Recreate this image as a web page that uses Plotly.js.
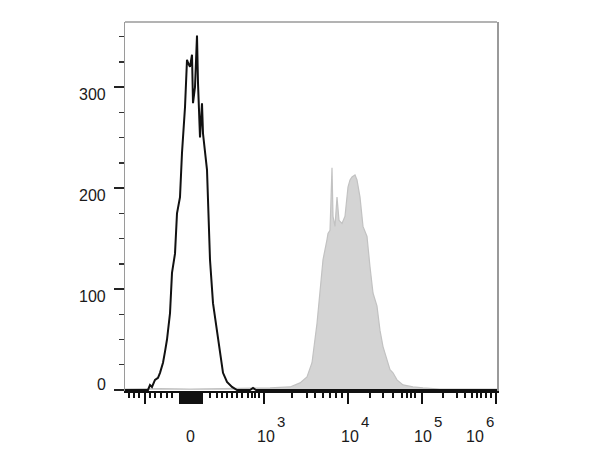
<!DOCTYPE html>
<html>
<head>
<meta charset="utf-8">
<script src="https://cdn.plot.ly/plotly-3.0.1.min.js"></script>
<style>html,body{margin:0;padding:0;background:#fff;}#chart{width:600px;height:462px;}</style>
</head>
<body>
<div id="chart"></div>
<script>
// x values are in display (biexponential-like) channel units; 0 = zero, decades at tick positions
var controlX = [-65,-42,-40,-38,-35,-32,-30,-27,-25,-23,-20,-18,-15,-13,-10,-8,-5,-3,-2,0,2,3,5,7,8,10,12,13,17,20,23,28,30,33,37,42,47,60,63,66,307];
var controlY = [0,0,5,3,10,12,17,27,38,50,76,116,135,175,191,235,280,327,324,320,332,284,300,351,304,250,284,254,218,129,86,50,35,17,8,3,0,0,2,0,0];

var stainedX = [-65,-30,0,40,80,100,110,117,122,127,130,133,137,138,140,141,142,143,145,147,149,152,155,158,160,162,165,167,170,173,177,180,183,187,190,193,197,200,203,207,213,223,233,250,307];
var stainedY = [1,1.5,1,1.5,2,3,7,13,27,66,96,129,149,155,158,190,220,172,162,191,168,165,172,201,208,211,213,208,191,162,152,122,96,83,59,43,30,20,17,10,5,3,2,1,1];

var xMajorTicks = [-45,-10,-8,-6,-4,-2,0,2,4,6,8,10,12,74,158,232,306];
var xMinorTicks = [-61,-56,-51,-40,-35,-29,-23,-18,20,27,32,37,42,47,52,58,62,65,69,102,117,125,133,140,146,152,180,193,203,212,217,221,225,253,267,275,282,287,291,296,301];
var xLabelBase = ["0","10","10","10","10"];
var xLabelExp = ["","3","4","5","6"];
var yTickVals = [0,100,200,300];
var yTickText = ["0","100","200","300"];

// label placement (layout)
var xLabelPos = [0,76,160,233,285];
var yLabelShift = [5,-7,-7,-7];

var W = 372, H = 369; // plot area px
var annotations = [];
var fnt = {family:"Liberation Sans, Arial, sans-serif", size:16, color:"#1a1a1a"};
for (var i=0;i<xLabelBase.length;i++){
  annotations.push({xref:'x', yref:'paper', x:xLabelPos[i], y:-45/H, text:xLabelBase[i], showarrow:false, xanchor:'center', yanchor:'middle', font:fnt});
  if (xLabelExp[i]) {
    annotations.push({xref:'x', yref:'paper', x:xLabelPos[i]+15, y:-31/H, text:xLabelExp[i], showarrow:false, xanchor:'center', yanchor:'middle', font:{family:fnt.family,size:15,color:fnt.color}});
  }
}
for (var j=0;j<yTickVals.length;j++){
  annotations.push({xref:'paper', yref:'y', x:-17/W, y:yTickVals[j], yshift:yLabelShift[j], text:yTickText[j], showarrow:false, xanchor:'right', yanchor:'middle', font:fnt});
}

var traces = [
  {x:stainedX, y:stainedY, type:'scatter', mode:'lines', fill:'tozeroy', fillcolor:'#d4d4d4', line:{color:'#c2c2c2', width:1.2}, hoverinfo:'skip'},
  {x:controlX, y:controlY, type:'scatter', mode:'lines', line:{color:'#111111', width:2}, hoverinfo:'skip'}
];

var layout = {
  width:600, height:462,
  margin:{l:125, r:103, t:22, b:71, pad:0},
  paper_bgcolor:'#ffffff', plot_bgcolor:'#ffffff',
  showlegend:false,
  xaxis:{range:[-65,307], showgrid:false, zeroline:false, showline:true, linecolor:'#111', linewidth:2,
    tickmode:'array', tickvals:xMajorTicks, showticklabels:false, ticks:'outside', ticklen:11, tickwidth:2, tickcolor:'#111',
    minor:{tickmode:'array', tickvals:xMinorTicks, ticks:'outside', ticklen:5, tickwidth:1.5, tickcolor:'#111', showgrid:false}},
  yaxis:{range:[-1,364.4], showgrid:false, zeroline:false, showline:true, linecolor:'#9a9a9a', linewidth:1.5, mirror:true,
    tickmode:'array', tickvals:yTickVals, showticklabels:false, ticks:'outside', ticklen:10, tickwidth:2, tickcolor:'#222',
    minor:{tick0:0, dtick:25, ticks:'outside', ticklen:5, tickwidth:1.5, tickcolor:'#333', showgrid:false}},
  shapes:[{type:'line', xref:'paper', yref:'paper', x0:0, x1:1, y0:1, y1:1, line:{color:'#9a9a9a', width:1.5}}],
  annotations:annotations
};
Plotly.newPlot('chart', traces, layout, {staticPlot:true, displayModeBar:false});
</script>
</body>
</html>
